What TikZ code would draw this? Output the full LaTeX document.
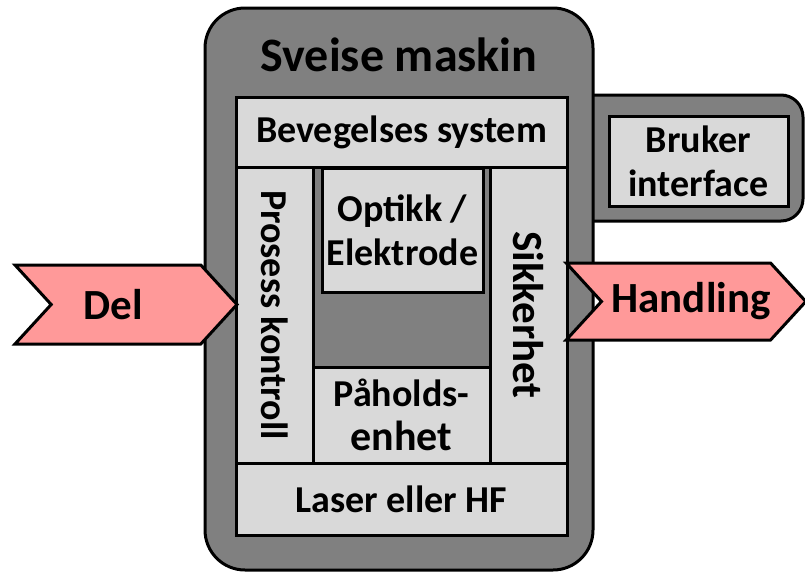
\documentclass[tikz,border=0pt]{standalone}
\usepackage{fontspec}
\setmainfont{Carlito}
\usepackage{xcolor}
\definecolor{Col1}{RGB}{128,128,128}
\definecolor{Col2}{RGB}{217,217,217}
\definecolor{Col3}{RGB}{255,153,153}
\usepackage{tikz}
\usetikzlibrary{shapes}
\tikzstyle{Ramme}=[draw=black,fill=Col1,line width=3pt,inner sep=0pt]
\tikzstyle{Boks}=[draw=black,fill=Col2,line width=3pt,inner sep=0pt,
align=center,font=\fontsize{38}{44}\selectfont\bfseries]
\tikzstyle{Pil}=[signal,signal from=west,signal to=east,
signal pointer angle=95,draw=black,fill=Col3,line width=3pt,inner sep=0pt,
font=\fontsize{43}{50}\selectfont\bfseries]

\begin{document}
\begin{tikzpicture}[x=1pt,y=1pt]
        \useasboundingbox(0,0)rectangle(805,-573);
        \node[Ramme,rounded corners=22pt,minimum width=243pt,
            minimum height=126pt](bakside)at(681.5,-158){};
        \node[Ramme,rounded corners=40pt,minimum width=388pt,
            minimum height=562pt](maskin)at(399,-289){};
        \node[font=\fontsize{48}{55}\selectfont\bfseries](tittel)
            at(399,-55){Sveise maskin};
        \node[Boks,minimum width=331pt,minimum height=70pt](bevegelse)
            at(401.5,-132){Bevegelses system};
        \node[Boks,rotate=-90,minimum width=296pt,minimum height=77pt]
            (prosess)at(274.5,-315){Prosess kontroll};
        \node[Ramme,minimum width=177pt,minimum height=200pt](midt)
            at(401.5,-267){};
        \node[Boks,minimum width=161pt,minimum height=124pt](optikk)
            at(402.5,-230){Optikk /\\Elektrode};
        \node[Boks,minimum width=177pt,minimum height=96pt](paholds)
            at(401.5,-415){Påholds-\\{\fontsize{42}{44}\selectfont enhet}};
        \node[Boks,rotate=-90,minimum width=296pt,minimum height=77pt,
            font=\fontsize{43}{50}\selectfont\bfseries](sikkerhet)
            at(528.5,-315){Sikkerhet};
        \node[Boks,minimum width=331pt,minimum height=72pt](laser)
            at(401.5,-499){Laser eller HF};
        \node[Boks,minimum width=179pt,minimum height=90pt](bruker)
            at(698.5,-161){Bruker\\interface};
        \node[Pil,minimum width=222pt,minimum height=79pt](del)
            at(126,-304.5){Del\hspace*{26pt}};
        \node[Pil,minimum width=238pt,minimum height=77pt](handling)
            at(686,-301.5){\hspace*{10pt}Handling};
    \end{tikzpicture}
\end{document}
